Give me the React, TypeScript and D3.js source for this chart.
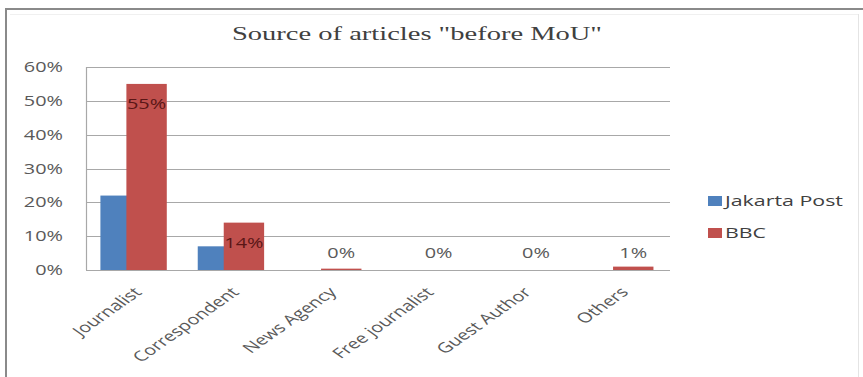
import React from "react";
import * as d3 from "d3";

const categories = ["Journalist", "Correspondent", "News Agency", "Free journalist", "Guest Author", "Others"];
const seriesNames = ["Jakarta Post", "BBC"];
const jakartaPost = [22, 7, 0, 0, 0, 0];
const bbc = [55, 14, 0.4, 0, 0, 1];
const yTicks = [0, 10, 20, 30, 40, 50, 60];
const title = "Source of articles \"before MoU\"";

const BLUE = "#4f81bd";
const RED = "#c0504d";
const SX = 1.42;
const FONT = "'Open Sans', sans-serif";

export default function App() {
  const W = 863, H = 377;
  const plotL = 86, plotR = 670, plotT = 67, plotB = 270;
  const x = d3.scaleBand<string>().domain(categories).range([plotL, plotR]).padding(0);
  const y = d3.scaleLinear().domain([0, 60]).range([plotB, plotT]);
  const bw = x.bandwidth();
  const inner = d3.scaleOrdinal<number, number>().domain([0, 1]).range([0.148 * bw, 0.415 * bw]);
  const barW = 0.415 * bw;
  const series = [jakartaPost, bbc];
  const colors = [BLUE, RED];
  const fmt = (v: number) => `${Math.round(v)}%`;

  return (
    <svg width={W} height={H} style={{ position: "fixed", left: 0, top: 0, background: "#fff" }}>
      <rect x={0} y={0} width={W} height={H} fill="#fff" />
      {/* outer frame */}
      <line x1={5} x2={W} y1={9} y2={9} stroke="#8a8a8a" strokeWidth={2} />
      <line x1={6} x2={6} y1={9} y2={H} stroke="#8a8a8a" strokeWidth={2} />
      <line x1={858.5} x2={858.5} y1={14} y2={H} stroke="#e4e4e4" strokeWidth={1} />
      <line x1={10} x2={858} y1={14.5} y2={14.5} stroke="#f0f0f0" strokeWidth={1} />

      {/* title */}
      <text x={232} y={40} textLength={370} lengthAdjust="spacingAndGlyphs"
        fontFamily="'Liberation Serif', serif" fontSize={19} fill="#404040">{title}</text>

      {/* gridlines */}
      {yTicks.map((t) => (
        <line key={"g" + t} x1={plotL} x2={plotR} y1={Math.round(y(t)) + 0.5} y2={Math.round(y(t)) + 0.5}
          stroke="#a8a8a8" strokeWidth={1.2} />
      ))}
      <line x1={plotL + 0.5} x2={plotL + 0.5} y1={plotT} y2={plotB} stroke="#a8a8a8" strokeWidth={1.2} />

      {/* y tick labels */}
      {yTicks.map((t) => (
        <text key={"t" + t} transform={`translate(63,${y(t) + 5}) scale(${SX},1)`} textAnchor="end"
          fontFamily={FONT} fontSize={14} fill="#595959">{t + "%"}</text>
      ))}

      {/* bars */}
      {series.map((s, si) => (
        <g key={"s" + si}>
          {s.map((v, i) => (
            <rect key={i} x={(x(categories[i]) as number) + (inner(si) as number)} y={y(v)}
              width={barW} height={plotB - y(v)} fill={colors[si]} />
          ))}
        </g>
      ))}

      {/* data labels for BBC */}
      {bbc.map((v, i) => {
        const cx = (x(categories[i]) as number) + (inner(1) as number) + barW / 2;
        const tall = plotB - y(v) > 30;
        const ty = tall ? y(v) + 25 : plotB - 12;
        return (
          <text key={"l" + i} transform={`translate(${cx},${ty}) scale(${SX},1)`} textAnchor="middle"
            fontFamily={FONT} fontSize={14} fill={tall ? "#5a1616" : "#595959"}>{fmt(v)}</text>
        );
      })}

      {/* x labels */}
      {categories.map((c) => {
        const cx = (x(c) as number) + bw / 2 - 2;
        return (
          <text key={"x" + c} transform={`translate(${cx},${plotB + 16}) scale(${SX},1) rotate(-45)`}
            textAnchor="end" dy="0.72em" fontFamily={FONT} fontSize={14} fill="#595959">{c}</text>
        );
      })}

      {/* legend */}
      {seriesNames.map((n, i) => (
        <g key={"lg" + i}>
          <rect x={708} y={196 + i * 32} width={14} height={10} fill={colors[i]} />
          <text x={725} y={206 + i * 32} textLength={i === 0 ? 118 : 41} lengthAdjust="spacingAndGlyphs"
            fontFamily={FONT} fontSize={15} fill="#404040">{n}</text>
        </g>
      ))}
    </svg>
  );
}
